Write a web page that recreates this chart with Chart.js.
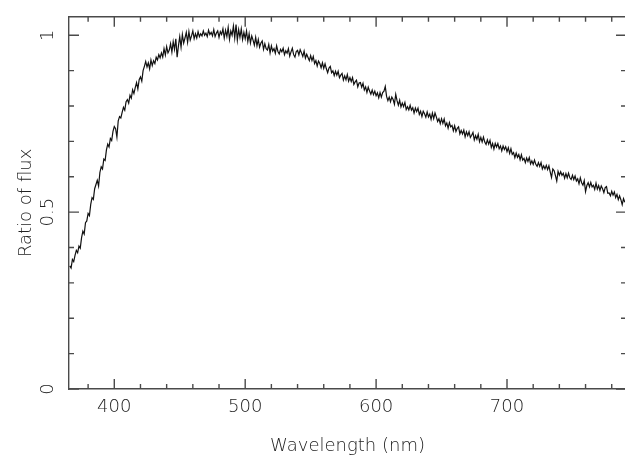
<!DOCTYPE html>
<html>
<head>
<meta charset="utf-8">
<style>
html,body{margin:0;padding:0;overflow:hidden;background:#fff;}
#wrap{width:628px;height:458px;}
</style>
<script src="https://cdn.jsdelivr.net/npm/chart.js@4"></script>
</head>
<body>
<div id="wrap"><canvas id="c" width="628" height="458"></canvas></div>
<script>
// Wavelength grid (nm)
const wavelengths = [
366,367,368,369,370,371,372,373,374,375,376,377,378,379,380,381,382,383,384,385,
386,387,388,389,390,391,392,393,394,395,396,397,398,399,400,401,402,403,404,405,
406,407,408,409,410,411,412,413,414,415,416,417,418,419,420,421,422,423,424,425,
426,427,428,429,430,431,432,433,434,435,436,437,438,439,440,441,442,443,444,445,
446,447,448,449,450,451,452,453,454,455,456,457,458,459,460,461,462,463,464,465,
466,467,468,469,470,471,472,473,474,475,476,477,478,479,480,481,482,483,484,485,
486,487,488,489,490,491,492,493,494,495,496,497,498,499,500,501,502,503,504,505,
506,507,508,509,510,511,512,513,514,515,516,517,518,519,520,521,522,523,524,525,
526,527,528,529,530,531,532,533,534,535,536,537,538,539,540,541,542,543,544,545,
546,547,548,549,550,551,552,553,554,555,556,557,558,559,560,561,562,563,564,565,
566,567,568,569,570,571,572,573,574,575,576,577,578,579,580,581,582,583,584,585,
586,587,588,589,590,591,592,593,594,595,596,597,598,599,600,601,602,603,604,605,
606,607,608,609,610,611,612,613,614,615,616,617,618,619,620,621,622,623,624,625,
626,627,628,629,630,631,632,633,634,635,636,637,638,639,640,641,642,643,644,645,
646,647,648,649,650,651,652,653,654,655,656,657,658,659,660,661,662,663,664,665,
666,667,668,669,670,671,672,673,674,675,676,677,678,679,680,681,682,683,684,685,
686,687,688,689,690,691,692,693,694,695,696,697,698,699,700,701,702,703,704,705,
706,707,708,709,710,711,712,713,714,715,716,717,718,719,720,721,722,723,724,725,
726,727,728,729,730,731,732,733,734,735,736,737,738,739,740,741,742,743,744,745,
746,747,748,749,750,751,752,753,754,755,756,757,758,759,760,761,762,763,764,765,
766,767,768,769,770,771,772,773,774,775,776,777,778,779,780,781,782,783,784,785,
786,787,788,789,790];
// Ratio of flux
const fluxRatio = [
.348,.342,.366,.360,.378,.392,.385,.404,.398,.428,.446,.438,.470,.475,.496,.490,.522,.541,.536,.566,
.578,.590,.574,.612,.628,.622,.650,.646,.676,.692,.684,.708,.702,.728,.742,.736,.712,.758,.770,.766,
.782,.796,.788,.812,.818,.808,.830,.822,.846,.835,.852,.866,.848,.874,.882,.870,.900,.912,.926,.910,
.922,.905,.930,.914,.928,.920,.938,.930,.945,.936,.950,.938,.962,.944,.968,.950,.958,.976,.952,.982,
.960,.990,.938,.970,.996,.966,1.002,.978,.992,1.008,.980,1.010,.986,.998,1.012,.990,1.004,.992,1.010,.996,
1.004,.998,1.012,1.000,1.006,.996,1.014,1.002,1.008,.998,1.016,.996,1.006,1.012,.994,1.010,1.002,1.018,.992,1.014,
.996,1.022,.988,1.012,1.000,1.026,.992,1.030,.986,1.016,.994,1.018,.988,1.008,.990,1.012,.982,1.004,.978,.998,
.986,.972,.994,.970,.988,.966,.978,.984,.960,.976,.962,.958,.974,.950,
.970,.955,.962,.949,.970,.954,.947,.960,.953,.963,
.945,.956,.949,.962,.941,.953,.963,.945,.938,.954,
.957,.944,.959,.950,.940,.955,.935,.946,.937,.928,
.942,.928,.940,.920,.928,.913,.927,.920,.908,.922,
.906,.919,.905,.894,.907,.912,.894,.899,.886,.898,
.887,.898,.880,.887,.892,.873,.885,.874,.889,.870,
.880,.869,.880,.861,.868,.873,.854,.865,.866,.853,
.864,.845,.854,.838,.853,.842,.833,.845,.832,.842,
.829,.837,.823,.838,.825,.838,.842,.855,.827,.815,
.825,.812,.825,.818,.805,.833,.815,.802,.816,.797,
.808,.798,.810,.790,.798,.789,.802,.788,.795,.780,
.794,.784,.794,.776,.785,.770,.785,.778,.768,.783,
.769,.777,.762,.780,.764,.780,.769,.756,.764,.750,
.764,.751,.763,.744,.752,.737,.753,.741,.745,.730,
.744,.728,.737,.741,.721,.731,.721,.732,.713,.727,
.716,.727,.711,.717,.725,.704,.716,.706,.720,.699,
.711,.698,.712,.698,.691,.704,.692,.703,.683,.694,
.678,.694,.684,.694,.679,.687,.673,.687,.677,.685,
.671,.682,.666,.679,.663,.668,.654,.667,.655,.663,
.648,.662,.647,.652,.640,.653,.643,.654,.636,.645,
.635,.647,.635,.629,.640,.629,.640,.622,.631,.622,
.632,.620,.631,.614,.598,.622,.617,.603,.588,.615,
.604,.614,.604,.610,.596,.609,.597,.610,.597,.592,
.604,.592,.602,.588,.594,.580,.597,.583,.576,.589,
.558,.575,.583,.571,.584,.571,.576,.564,.582,.565,
.575,.561,.574,.566,.555,.569,.572,.553,.554,.546,
.559,.548,.557,.541,.550,.535,.546,.535,.521,.538,.528];
// Axis ticks
const xMajorTicks = [400,500,600,700];
const xMinorTicks = [380,420,440,460,480,520,540,560,580,620,640,660,680,720,740,760,780];
const yMajorTicks = [0,0.5,1];
const yMinorTicks = [0.1,0.2,0.3,0.4,0.6,0.7,0.8,0.9];
const xTitle = 'Wavelength (nm)';
const yTitle = 'Ratio of flux';

const FONT = {family:'"DejaVu Sans", sans-serif', size:18, weight:200};
const AX = '#4a4a4a';
const TXT = '#222';

const points = wavelengths.map((w,i)=>({x:w,y:fluxRatio[i]}));

const tickPlugin = {
  id:'inwardTicks',
  afterDraw(chart){
    const {ctx, chartArea:a, scales:{x,y}} = chart;
    ctx.save();
    ctx.strokeStyle = AX;
    ctx.lineWidth = 1.4;
    ctx.beginPath();
    ctx.moveTo(a.left-0.7, a.top); ctx.lineTo(a.right, a.top);
    x.ticks.forEach(t=>{
      const px = x.getPixelForValue(t.value);
      const len = xMajorTicks.includes(t.value) ? 10 : 5;
      ctx.moveTo(px, a.bottom); ctx.lineTo(px, a.bottom-len);
      ctx.moveTo(px, a.top); ctx.lineTo(px, a.top+len);
    });
    y.ticks.forEach(t=>{
      const py = y.getPixelForValue(t.value);
      const len = yMajorTicks.includes(t.value) ? 10 : 5;
      ctx.moveTo(a.left, py); ctx.lineTo(a.left+len, py);
      ctx.moveTo(a.right, py); ctx.lineTo(a.right-len, py);
    });
    ctx.stroke();
    ctx.restore();
  }
};

new Chart(document.getElementById('c'), {
  type:'line',
  data:{datasets:[{data:points, borderColor:'#111', borderWidth:1.2, pointRadius:0, tension:0, fill:false}]},
  options:{
    responsive:false, animation:false, events:[],
    layout:{padding:{top:12,right:2,left:0,bottom:0}},
    plugins:{legend:{display:false}, tooltip:{enabled:false}},
    scales:{
      x:{type:'linear', position:'bottom', min:365.4, max:790.9,
        afterBuildTicks(s){ s.ticks = xMajorTicks.concat(xMinorTicks).sort((a,b)=>a-b).map(v=>({value:v})); },
        afterFit(s){ s.height = 69; },
        grid:{display:false, drawTicks:false},
        border:{display:true, color:AX, width:1.4},
        ticks:{autoSkip:false, maxRotation:0, padding:8, color:TXT, font:FONT,
          callback:(v)=> xMajorTicks.includes(v) ? String(v) : ''},
        title:{display:true, text:xTitle, color:TXT, font:FONT, padding:{top:0,bottom:1}}
      },
      y:{type:'linear', position:'left', min:0, max:1.052,
        afterBuildTicks(s){ s.ticks = yMajorTicks.concat(yMinorTicks).sort((a,b)=>a-b).map(v=>({value:v})); },
        afterFit(s){ s.width = 69; },
        grid:{display:false, drawTicks:false},
        border:{display:true, color:AX, width:1.4},
        ticks:{autoSkip:false, minRotation:90, maxRotation:90, crossAlign:'center', padding:6, color:TXT, font:FONT,
          callback:(v)=> yMajorTicks.includes(v) ? String(v) : ''},
        title:{display:true, text:yTitle, color:TXT, font:FONT, padding:{top:16,bottom:0}}
      }
    }
  },
  plugins:[tickPlugin]
});
</script>
</body>
</html>
